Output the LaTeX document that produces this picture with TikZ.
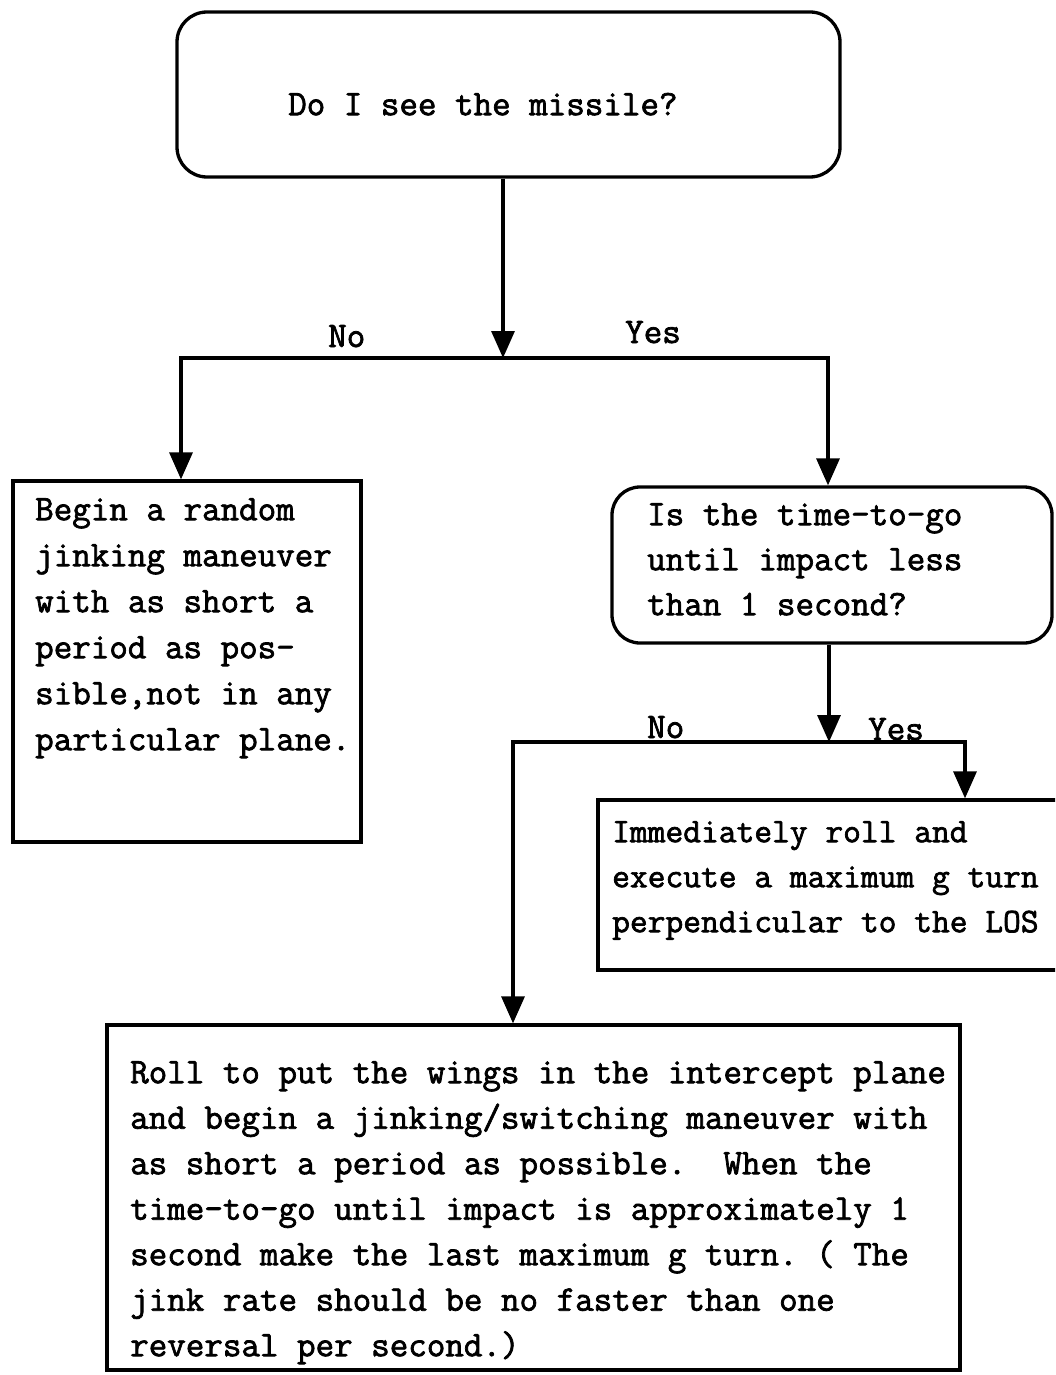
\documentclass[tikz,border=0pt]{standalone}
\usepackage{fontspec}
\newfontfamily\tw{Latin Modern Mono}[FakeBold=2]
\usetikzlibrary{arrows.meta}
\begin{document}
\frenchspacing
\begin{tikzpicture}[x=1pt,y=-1pt,
  box/.style={draw, line width=3.3pt, inner sep=0pt},
  rbox/.style={box, rounded corners=30pt},
  txt/.style={font=\tw\frenchspacing\fontsize{36}{#1}\selectfont, align=left, inner sep=0pt, anchor=north west},
  txt/.default=46,
  lbl/.style={font=\tw\fontsize{36}{40}\selectfont, inner sep=0pt, anchor=base west},
  flow/.style={line width=3.3pt},
  arr/.style={-{Triangle[width=23pt,length=27pt]}},
  arrb/.style={{Triangle[width=23pt,length=27pt]}-{Triangle[width=23pt,length=27pt]}}]
\useasboundingbox (0,0) rectangle (1055,1375);
\clip (0,0) rectangle (1055,1375);
% boxes
\node[rbox, minimum width=663pt, minimum height=165pt] (q1) at (508.5,94.5) {};
\node[box, minimum width=348pt, minimum height=361pt] (act1) at (187,661.5) {};
\node[rbox, rounded corners=28pt, minimum width=440pt, minimum height=156pt] (q2) at (832,565) {};
\node[box, minimum width=467pt, minimum height=170pt] (act2) at (831.5,885) {};
\node[box, minimum width=853pt, minimum height=345pt] (act3) at (533.5,1197.5) {};
% texts
\node[txt] (q1t) at (288,89) {\rule{0pt}{26pt}Do I see the missile?};
\node[txt] (act1t) at (35,494) {\rule{0pt}{26pt}Begin a random\\jinking maneuver\\with as short a\\period as pos-\\sible,not in any\\particular plane.};
\node[txt=45] (q2t) at (647,499) {\rule{0pt}{26pt}Is the time-to-go\\until impact less\\than 1 second?};
\node[txt=45, font=\tw\frenchspacing\fontsize{34.5}{45}\selectfont] (act2t) at (612,816) {\rule{0pt}{26pt}Immediately roll and\\execute a maximum g turn\\perpendicular to the LOS};
\node[txt=45.5] (act3t) at (130,1057) {\rule{0pt}{26pt}Roll to put the wings in the intercept plane\\and begin a jinking/switching maneuver with\\as short a period as possible.\ \ When the\\time-to-go until impact is approximately 1\\second make the last maximum g turn. ( The\\jink rate should be no faster than one\\reversal per second.)};
% labels
\node[lbl] (no1) at (328,347) {No};
\node[lbl] (yes1) at (625,343) {Yes};
\node[lbl] (no2) at (647,738) {No};
\node[lbl] (yes2) at (868,740) {Yes};
% junctions
\coordinate (j1) at (503,358);
\coordinate (jl) at (181,358);
\coordinate (jr) at (828,358);
\coordinate (j2) at (829,742);
\coordinate (kl) at (513,742);
\coordinate (kr) at (965,742);
% connectors
\draw[flow, arr] (j1 |- q1.south) -- (j1);
\draw[flow, arrb] (jl |- act1.north) -- (jl) -- (jr) -- (jr |- q2.north);
\draw[flow, arr] (j2 |- q2.south) -- (j2);
\draw[flow, arrb] (kl |- act3.north) -- (kl) -- (kr) -- (kr |- act2.north);
\end{tikzpicture}
\end{document}
